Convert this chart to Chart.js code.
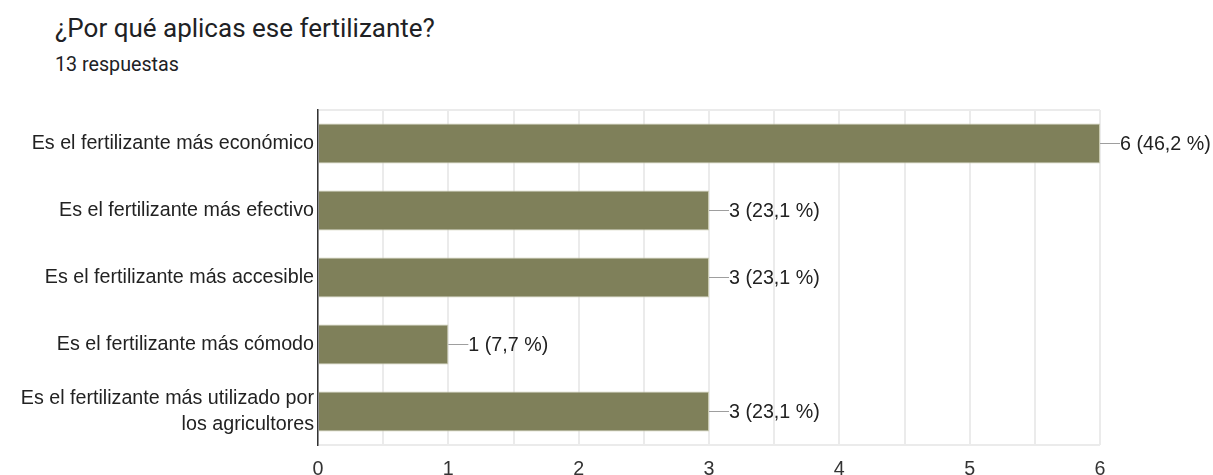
<!DOCTYPE html>
<html>
<head>
<meta charset="utf-8">
<script src="https://cdn.jsdelivr.net/npm/chart.js@4"></script>
<style>
  html, body { margin: 0; padding: 0; background: #fff; }
  body { width: 1213px; height: 475px; position: relative; overflow: hidden; font-family: Roboto, sans-serif; }
  .title { position: absolute; left: 55px; top: 13px; font-size: 26px; color: #202124; line-height: normal; }
  .subtitle { position: absolute; left: 55px; top: 53px; font-size: 19.7px; color: #202124; line-height: normal; }
  #wrap { position: absolute; left: 0; top: 0; width: 1213px; height: 475px; }
</style>
</head>
<body>
<div class="title">¿Por qué aplicas ese fertilizante?</div>
<div class="subtitle">13 respuestas</div>
<div id="wrap"><canvas id="chart"></canvas></div>
<script>
const categories = [
  "Es el fertilizante más económico",
  "Es el fertilizante más efectivo",
  "Es el fertilizante más accesible",
  "Es el fertilizante más cómodo",
  ["Es el fertilizante más utilizado por", "los agricultores"],
];
const counts = [6, 3, 3, 1, 3];
const totalResponses = 13;
const xTicks = [0, 1, 2, 3, 4, 5, 6];

const barColor = "#7f805a";
const labelFont = "'Liberation Sans', Arial, sans-serif";

// little leader line + "n (xx,x %)" after each bar
const valueLabels = {
  id: "valueLabels",
  afterDatasetsDraw(chart) {
    const { ctx } = chart;
    const meta = chart.getDatasetMeta(0);
    ctx.save();
    ctx.font = "19.7px " + labelFont;
    ctx.textBaseline = "middle";
    ctx.textAlign = "left";
    meta.data.forEach((bar, i) => {
      const v = counts[i];
      const pct = ((v / totalResponses) * 100).toFixed(1).replace(".", ",");
      ctx.strokeStyle = "#9e9e9e";
      ctx.lineWidth = 1;
      ctx.beginPath();
      ctx.moveTo(bar.x, bar.y);
      ctx.lineTo(bar.x + 20, bar.y);
      ctx.stroke();
      ctx.fillStyle = "#222";
      ctx.fillText(`${v} (${pct} %)`, bar.x + 20, bar.y + 1);
    });
    ctx.restore();
  },
};

new Chart(document.getElementById("chart"), {
  type: "bar",
  data: {
    labels: categories,
    datasets: [{
      data: counts,
      backgroundColor: barColor,
      borderColor: "#c9cab0",
      borderWidth: 1,
      borderSkipped: "left",
      barPercentage: 0.6,
      categoryPercentage: 1,
    }],
  },
  options: {
    indexAxis: "y",
    responsive: true,
    maintainAspectRatio: false,
    animation: false,
    layout: { padding: { top: 110, right: 113, left: 0, bottom: 0 } },
    plugins: { legend: { display: false }, tooltip: { enabled: false } },
    scales: {
      x: {
        min: 0,
        max: 6,
        afterBuildTicks(s) {
          const t = [];
          for (let v = 0; v <= 6; v += 0.5) t.push({ value: v });
          s.ticks = t;
        },
        afterFit(s) { s.height = 30; },
        ticks: {
          color: "#333",
          font: { family: labelFont, size: 19.7 },
          padding: 13,
          maxRotation: 0,
          autoSkip: false,
          callback: (v) => (xTicks.includes(v) ? String(v) : ""),
        },
        grid: { color: "#ebebeb", lineWidth: 2, drawTicks: false },
        border: { display: false },
      },
      y: {
        afterFit(s) { s.width = 318; },
        ticks: {
          color: "#222",
          font: { family: labelFont, size: 19.7, lineHeight: 1.32 },
          padding: 4,
        },
        grid: {
          drawTicks: false,
          lineWidth: 2,
          color: (c) => (c.index === 0 || c.index === undefined ? "#ebebeb" : "rgba(0,0,0,0)"),
        },
        border: { color: "#333", width: 1.5 },
      },
    },
  },
  plugins: [valueLabels],
});
</script>
</body>
</html>
